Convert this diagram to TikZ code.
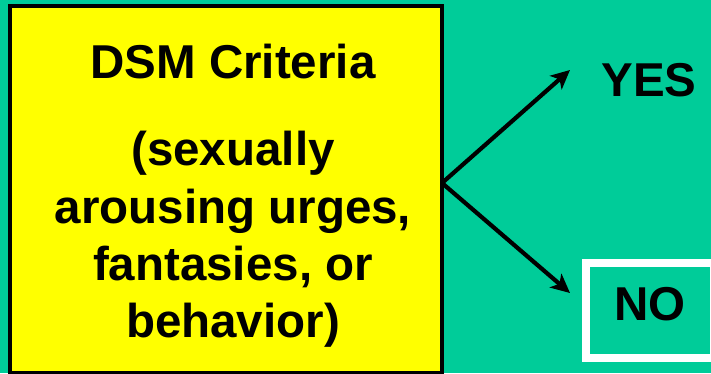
\documentclass[tikz,border=0pt]{standalone}
\usepackage{fontspec}
\setmainfont{Liberation Sans}
\usetikzlibrary{arrows.meta}
\definecolor{bgteal}{HTML}{00CC99}
\definecolor{boxyellow}{HTML}{FFFF00}
\begin{document}
\begin{tikzpicture}[x=1pt,y=-1pt,
  txt/.style={font=\fontsize{47.5}{57}\selectfont\bfseries, text=black, inner sep=0pt},
  arr/.style={line width=4.2pt, -{Stealth[length=19pt,width=18pt,inset=5pt]}}]
\useasboundingbox (0,0) rectangle (711,373);
\fill[bgteal] (0,0) rectangle (711,373);
\node[draw=black, line width=4pt, fill=boxyellow, minimum width=432pt, minimum height=367pt, inner sep=0pt] (crit) at (226,189.5) {};
\node[txt, anchor=base] (l1) at (233,78) {DSM Criteria};
\node[txt, anchor=base] (l2) at (233,165) {(sexually};
\node[txt, anchor=base] (l3) at (233,223) {arousing urges,};
\node[txt, anchor=base] (l4) at (233,280) {fantasies, or};
\node[txt, anchor=base] (l5) at (233,337) {behavior)};
\coordinate (fork) at (442,183);
\coordinate (uptip) at (570,70);
\coordinate (downtip) at (570,293);
\draw[arr] (fork) -- (uptip);
\draw[arr] (fork) -- (downtip);
\node[txt] (yes) at (649,80) {YES};
\node[txt, draw=white, line width=8pt, minimum width=128pt, minimum height=95pt, text depth=12pt] (no) at (650,310) {NO};
\end{tikzpicture}
\end{document}
